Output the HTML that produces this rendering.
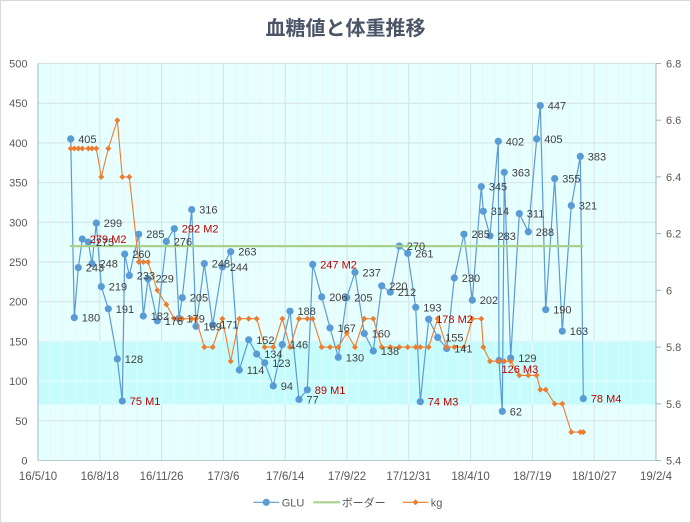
<!DOCTYPE html>
<html><head><meta charset="utf-8"><style>
html,body{margin:0;padding:0;background:#fff;}
svg{display:block;font-family:"Liberation Sans","Noto Sans CJK JP",sans-serif;}
</style></head><body>
<svg width="691" height="523" viewBox="0 0 691 523" xmlns="http://www.w3.org/2000/svg">
<defs>
<clipPath id="bandclip"><rect x="38" y="341.4" width="618" height="63.1"/></clipPath>
<g id="grid">
<line x1="38" y1="420.8" x2="656" y2="420.8"/><line x1="38" y1="381.1" x2="656" y2="381.1"/><line x1="38" y1="341.4" x2="656" y2="341.4"/><line x1="38" y1="301.7" x2="656" y2="301.7"/><line x1="38" y1="262" x2="656" y2="262"/><line x1="38" y1="222.3" x2="656" y2="222.3"/><line x1="38" y1="182.6" x2="656" y2="182.6"/><line x1="38" y1="142.9" x2="656" y2="142.9"/><line x1="38" y1="103.2" x2="656" y2="103.2"/><line x1="38" y1="63.5" x2="656" y2="63.5"/>
<line x1="99.8" y1="63.5" x2="99.8" y2="460.5"/><line x1="161.6" y1="63.5" x2="161.6" y2="460.5"/><line x1="223.4" y1="63.5" x2="223.4" y2="460.5"/><line x1="285.2" y1="63.5" x2="285.2" y2="460.5"/><line x1="347" y1="63.5" x2="347" y2="460.5"/><line x1="408.8" y1="63.5" x2="408.8" y2="460.5"/><line x1="470.6" y1="63.5" x2="470.6" y2="460.5"/><line x1="532.4" y1="63.5" x2="532.4" y2="460.5"/><line x1="594.2" y1="63.5" x2="594.2" y2="460.5"/>
</g>
<g id="minor">
<line x1="50.4" y1="63.5" x2="50.4" y2="460.5"/><line x1="62.7" y1="63.5" x2="62.7" y2="460.5"/><line x1="75.1" y1="63.5" x2="75.1" y2="460.5"/><line x1="87.4" y1="63.5" x2="87.4" y2="460.5"/>
<line x1="112.2" y1="63.5" x2="112.2" y2="460.5"/><line x1="124.5" y1="63.5" x2="124.5" y2="460.5"/><line x1="136.9" y1="63.5" x2="136.9" y2="460.5"/><line x1="149.2" y1="63.5" x2="149.2" y2="460.5"/>
<line x1="174" y1="63.5" x2="174" y2="460.5"/><line x1="186.3" y1="63.5" x2="186.3" y2="460.5"/><line x1="198.7" y1="63.5" x2="198.7" y2="460.5"/><line x1="211" y1="63.5" x2="211" y2="460.5"/>
<line x1="235.8" y1="63.5" x2="235.8" y2="460.5"/><line x1="248.1" y1="63.5" x2="248.1" y2="460.5"/><line x1="260.5" y1="63.5" x2="260.5" y2="460.5"/><line x1="272.8" y1="63.5" x2="272.8" y2="460.5"/>
<line x1="297.6" y1="63.5" x2="297.6" y2="460.5"/><line x1="309.9" y1="63.5" x2="309.9" y2="460.5"/><line x1="322.3" y1="63.5" x2="322.3" y2="460.5"/><line x1="334.6" y1="63.5" x2="334.6" y2="460.5"/>
<line x1="359.4" y1="63.5" x2="359.4" y2="460.5"/><line x1="371.7" y1="63.5" x2="371.7" y2="460.5"/><line x1="384.1" y1="63.5" x2="384.1" y2="460.5"/><line x1="396.4" y1="63.5" x2="396.4" y2="460.5"/>
<line x1="421.2" y1="63.5" x2="421.2" y2="460.5"/><line x1="433.5" y1="63.5" x2="433.5" y2="460.5"/><line x1="445.9" y1="63.5" x2="445.9" y2="460.5"/><line x1="458.2" y1="63.5" x2="458.2" y2="460.5"/>
<line x1="483" y1="63.5" x2="483" y2="460.5"/><line x1="495.3" y1="63.5" x2="495.3" y2="460.5"/><line x1="507.7" y1="63.5" x2="507.7" y2="460.5"/><line x1="520" y1="63.5" x2="520" y2="460.5"/>
<line x1="544.8" y1="63.5" x2="544.8" y2="460.5"/><line x1="557.1" y1="63.5" x2="557.1" y2="460.5"/><line x1="569.5" y1="63.5" x2="569.5" y2="460.5"/><line x1="581.8" y1="63.5" x2="581.8" y2="460.5"/>
<line x1="606.6" y1="63.5" x2="606.6" y2="460.5"/><line x1="618.9" y1="63.5" x2="618.9" y2="460.5"/><line x1="631.3" y1="63.5" x2="631.3" y2="460.5"/><line x1="643.6" y1="63.5" x2="643.6" y2="460.5"/>
</g>
<path id="dm" d="M0,-3L3,0L0,3L-3,0Z"/>
</defs>

<rect x="0.5" y="0.5" width="690" height="522" fill="#fff" stroke="#d9d9d9"/>

<!-- title -->
<text x="345.5" y="35" text-anchor="middle" font-size="20" font-weight="bold" fill="#4a5568" font-family="'Liberation Sans','Noto Sans CJK JP',sans-serif">血糖値と体重推移</text>

<!-- plot background -->
<rect x="38" y="63.5" width="618" height="397" fill="#e6ffff"/>
<use href="#minor" stroke="#edf6f6" stroke-width="1"/>
<use href="#grid" stroke="#d3e2e2" stroke-width="1"/>
<rect x="38" y="341.4" width="618" height="63.1" fill="#c6fcfc"/>
<g clip-path="url(#bandclip)">
<use href="#minor" stroke="#d8fdfd" stroke-width="1"/>
<use href="#grid" stroke="#eafdfd" stroke-width="1"/>
</g>

<!-- axes -->
<line x1="38" y1="63.5" x2="38" y2="460.5" stroke="#a3b4c4" stroke-width="1"/>
<line x1="656" y1="63.5" x2="656" y2="460.5" stroke="#a3b4c4" stroke-width="1"/>
<line x1="38" y1="460.5" x2="656" y2="460.5" stroke="#b8c8d0" stroke-width="1"/>
<g stroke="#a3b4c4" stroke-width="1">
<line x1="656" y1="63.5" x2="661" y2="63.5"/><line x1="656" y1="120.2" x2="661" y2="120.2"/><line x1="656" y1="176.9" x2="661" y2="176.9"/><line x1="656" y1="233.6" x2="661" y2="233.6"/><line x1="656" y1="290.3" x2="661" y2="290.3"/><line x1="656" y1="347.1" x2="661" y2="347.1"/><line x1="656" y1="403.8" x2="661" y2="403.8"/><line x1="656" y1="460.5" x2="661" y2="460.5"/>
</g>

<!-- left tick labels -->
<g font-size="11" fill="#595959" text-anchor="end">
<text x="27.5" y="67.5">500</text><text x="27.5" y="107.2">450</text><text x="27.5" y="146.9">400</text><text x="27.5" y="186.6">350</text><text x="27.5" y="226.3">300</text><text x="27.5" y="266">250</text><text x="27.5" y="305.7">200</text><text x="27.5" y="345.4">150</text><text x="27.5" y="385.1">100</text><text x="27.5" y="424.8">50</text><text x="27.5" y="464.5">0</text>
</g>
<!-- right tick labels -->
<g font-size="11" fill="#595959">
<text x="666" y="67.5">6.8</text><text x="666" y="124.2">6.6</text><text x="666" y="180.9">6.4</text><text x="666" y="237.6">6.2</text><text x="666" y="294.3">6</text><text x="666" y="351.1">5.8</text><text x="666" y="407.8">5.6</text><text x="666" y="464.5">5.4</text>
</g>
<!-- x labels -->
<g font-size="11.5" fill="#595959" text-anchor="middle">
<text x="38" y="480">16/5/10</text><text x="99.8" y="480">16/8/18</text><text x="161.6" y="480">16/11/26</text><text x="223.4" y="480">17/3/6</text><text x="285.2" y="480">17/6/14</text><text x="347" y="480">17/9/22</text><text x="408.8" y="480">17/12/31</text><text x="470.6" y="480">18/4/10</text><text x="532.4" y="480">18/7/19</text><text x="594.2" y="480">18/10/27</text><text x="656" y="480">19/2/4</text>
</g>

<!-- GLU series -->
<polyline fill="none" stroke="#5b9bd5" stroke-width="1.2" stroke-linejoin="round" points="70.7,138.9 74.3,317.6 78.3,267.6 82.3,239.0 88.3,242.1 92,263.6 96.3,223.1 101.3,286.6 108.3,308.8 117.3,358.9 122.3,401.0 124.7,254.1 129.3,275.5 138.7,234.2 143.3,316.0 148,278.7 157.3,320.8 166.3,241.4 174.3,228.7 179,318.4 182.3,297.7 191.7,209.6 196,326.3 204.3,263.6 212.7,324.7 222.3,266.8 230.7,251.7 239.3,370.0 248.7,339.8 256.7,354.1 264.7,362.8 273.3,385.9 282.3,344.6 290,311.2 299,399.4 307.3,389.8 312.7,264.4 321.7,296.9 330,327.9 338.3,357.3 346.7,297.7 355,272.3 364.3,333.5 373.3,350.9 381.7,285.8 390.3,292.2 399.3,246.1 407.7,253.3 415.7,307.3 420.3,401.7 428.7,319.2 437.7,337.4 446.7,348.5 454.3,277.9 464,234.2 472.3,300.1 481.3,186.6 483.3,211.2 490,235.8 498.3,141.3 499,360.5 502.3,411.3 504.3,172.3 510.7,358.1 519.3,213.6 528.3,231.8 536.7,138.9 540.3,105.6 545.7,309.6 554.7,178.6 562.3,331.1 571.3,205.6 580.3,156.4 583.3,398.6"/>
<g fill="#5b9bd5">
<circle cx="70.7" cy="138.9" r="3.6"/><circle cx="74.3" cy="317.6" r="3.6"/><circle cx="78.3" cy="267.6" r="3.6"/><circle cx="82.3" cy="239.0" r="3.6"/><circle cx="88.3" cy="242.1" r="3.6"/><circle cx="92" cy="263.6" r="3.6"/><circle cx="96.3" cy="223.1" r="3.6"/><circle cx="101.3" cy="286.6" r="3.6"/><circle cx="108.3" cy="308.8" r="3.6"/><circle cx="117.3" cy="358.9" r="3.6"/><circle cx="122.3" cy="401.0" r="3.6"/><circle cx="124.7" cy="254.1" r="3.6"/><circle cx="129.3" cy="275.5" r="3.6"/><circle cx="138.7" cy="234.2" r="3.6"/><circle cx="143.3" cy="316.0" r="3.6"/><circle cx="148" cy="278.7" r="3.6"/><circle cx="157.3" cy="320.8" r="3.6"/><circle cx="166.3" cy="241.4" r="3.6"/><circle cx="174.3" cy="228.7" r="3.6"/><circle cx="179" cy="318.4" r="3.6"/><circle cx="182.3" cy="297.7" r="3.6"/><circle cx="191.7" cy="209.6" r="3.6"/><circle cx="196" cy="326.3" r="3.6"/><circle cx="204.3" cy="263.6" r="3.6"/><circle cx="212.7" cy="324.7" r="3.6"/><circle cx="222.3" cy="266.8" r="3.6"/><circle cx="230.7" cy="251.7" r="3.6"/><circle cx="239.3" cy="370.0" r="3.6"/><circle cx="248.7" cy="339.8" r="3.6"/><circle cx="256.7" cy="354.1" r="3.6"/><circle cx="264.7" cy="362.8" r="3.6"/><circle cx="273.3" cy="385.9" r="3.6"/><circle cx="282.3" cy="344.6" r="3.6"/><circle cx="290" cy="311.2" r="3.6"/><circle cx="299" cy="399.4" r="3.6"/><circle cx="307.3" cy="389.8" r="3.6"/><circle cx="312.7" cy="264.4" r="3.6"/><circle cx="321.7" cy="296.9" r="3.6"/><circle cx="330" cy="327.9" r="3.6"/><circle cx="338.3" cy="357.3" r="3.6"/><circle cx="346.7" cy="297.7" r="3.6"/><circle cx="355" cy="272.3" r="3.6"/><circle cx="364.3" cy="333.5" r="3.6"/><circle cx="373.3" cy="350.9" r="3.6"/><circle cx="381.7" cy="285.8" r="3.6"/><circle cx="390.3" cy="292.2" r="3.6"/><circle cx="399.3" cy="246.1" r="3.6"/><circle cx="407.7" cy="253.3" r="3.6"/><circle cx="415.7" cy="307.3" r="3.6"/><circle cx="420.3" cy="401.7" r="3.6"/><circle cx="428.7" cy="319.2" r="3.6"/><circle cx="437.7" cy="337.4" r="3.6"/><circle cx="446.7" cy="348.5" r="3.6"/><circle cx="454.3" cy="277.9" r="3.6"/><circle cx="464" cy="234.2" r="3.6"/><circle cx="472.3" cy="300.1" r="3.6"/><circle cx="481.3" cy="186.6" r="3.6"/><circle cx="483.3" cy="211.2" r="3.6"/><circle cx="490" cy="235.8" r="3.6"/><circle cx="498.3" cy="141.3" r="3.6"/><circle cx="499" cy="360.5" r="3.6"/><circle cx="502.3" cy="411.3" r="3.6"/><circle cx="504.3" cy="172.3" r="3.6"/><circle cx="510.7" cy="358.1" r="3.6"/><circle cx="519.3" cy="213.6" r="3.6"/><circle cx="528.3" cy="231.8" r="3.6"/><circle cx="536.7" cy="138.9" r="3.6"/><circle cx="540.3" cy="105.6" r="3.6"/><circle cx="545.7" cy="309.6" r="3.6"/><circle cx="554.7" cy="178.6" r="3.6"/><circle cx="562.3" cy="331.1" r="3.6"/><circle cx="571.3" cy="205.6" r="3.6"/><circle cx="580.3" cy="156.4" r="3.6"/><circle cx="583.3" cy="398.6" r="3.6"/>
</g>

<!-- border line -->
<line x1="70" y1="246.1" x2="583.3" y2="246.1" stroke="#a9d18e" stroke-width="2.2"/>

<!-- kg series -->
<polyline fill="none" stroke="#ed7d31" stroke-width="1.1" stroke-linejoin="round" points="70.7,148.5 74.3,148.5 78.3,148.5 82.3,148.5 88.3,148.5 92,148.5 96.3,148.5 101.3,176.9 108.3,148.5 117.3,120.2 122.3,176.9 129.3,176.9 138.7,262.0 143.3,262.0 148,262.0 157.3,290.3 166.3,304.5 174.3,318.7 179,318.7 182.3,318.7 191.7,318.7 196,318.7 204.3,347.1 212.7,347.1 222.3,318.7 230.7,361.2 239.3,318.7 248.7,318.7 256.7,318.7 264.7,347.1 273.3,347.1 282.3,318.7 290,347.1 299,318.7 307.3,318.7 312.7,318.7 321.7,347.1 330,347.1 338.3,347.1 346.7,332.9 355,347.1 364.3,318.7 373.3,318.7 381.7,347.1 390.3,347.1 399.3,347.1 407.7,347.1 415.7,347.1 420.3,347.1 428.7,347.1 437.7,318.7 446.7,347.1 454.3,347.1 464,347.1 472.3,318.7 481.3,318.7 483.3,347.1 490,361.2 498.3,361.2 504.3,361.2 510.7,361.2 519.3,375.4 528.3,375.4 536.7,375.4 540.3,389.6 545.7,389.6 554.7,403.8 562.3,403.8 571.3,432.1 580.3,432.1 583.3,432.1"/>
<g fill="#ed7d31">
<use href="#dm" x="70.7" y="148.5"/><use href="#dm" x="74.3" y="148.5"/><use href="#dm" x="78.3" y="148.5"/><use href="#dm" x="82.3" y="148.5"/><use href="#dm" x="88.3" y="148.5"/><use href="#dm" x="92" y="148.5"/><use href="#dm" x="96.3" y="148.5"/><use href="#dm" x="101.3" y="176.9"/><use href="#dm" x="108.3" y="148.5"/><use href="#dm" x="117.3" y="120.2"/><use href="#dm" x="122.3" y="176.9"/><use href="#dm" x="129.3" y="176.9"/><use href="#dm" x="138.7" y="262"/><use href="#dm" x="143.3" y="262"/><use href="#dm" x="148" y="262"/><use href="#dm" x="157.3" y="290.3"/><use href="#dm" x="166.3" y="304.5"/><use href="#dm" x="174.3" y="318.7"/><use href="#dm" x="179" y="318.7"/><use href="#dm" x="182.3" y="318.7"/><use href="#dm" x="191.7" y="318.7"/><use href="#dm" x="196" y="318.7"/><use href="#dm" x="204.3" y="347.1"/><use href="#dm" x="212.7" y="347.1"/><use href="#dm" x="222.3" y="318.7"/><use href="#dm" x="230.7" y="361.2"/><use href="#dm" x="239.3" y="318.7"/><use href="#dm" x="248.7" y="318.7"/><use href="#dm" x="256.7" y="318.7"/><use href="#dm" x="264.7" y="347.1"/><use href="#dm" x="273.3" y="347.1"/><use href="#dm" x="282.3" y="318.7"/><use href="#dm" x="290" y="347.1"/><use href="#dm" x="299" y="318.7"/><use href="#dm" x="307.3" y="318.7"/><use href="#dm" x="312.7" y="318.7"/><use href="#dm" x="321.7" y="347.1"/><use href="#dm" x="330" y="347.1"/><use href="#dm" x="338.3" y="347.1"/><use href="#dm" x="346.7" y="332.9"/><use href="#dm" x="355" y="347.1"/><use href="#dm" x="364.3" y="318.7"/><use href="#dm" x="373.3" y="318.7"/><use href="#dm" x="381.7" y="347.1"/><use href="#dm" x="390.3" y="347.1"/><use href="#dm" x="399.3" y="347.1"/><use href="#dm" x="407.7" y="347.1"/><use href="#dm" x="415.7" y="347.1"/><use href="#dm" x="420.3" y="347.1"/><use href="#dm" x="428.7" y="347.1"/><use href="#dm" x="437.7" y="318.7"/><use href="#dm" x="446.7" y="347.1"/><use href="#dm" x="454.3" y="347.1"/><use href="#dm" x="464" y="347.1"/><use href="#dm" x="472.3" y="318.7"/><use href="#dm" x="481.3" y="318.7"/><use href="#dm" x="483.3" y="347.1"/><use href="#dm" x="490" y="361.2"/><use href="#dm" x="498.3" y="361.2"/><use href="#dm" x="504.3" y="361.2"/><use href="#dm" x="510.7" y="361.2"/><use href="#dm" x="519.3" y="375.4"/><use href="#dm" x="528.3" y="375.4"/><use href="#dm" x="536.7" y="375.4"/><use href="#dm" x="540.3" y="389.6"/><use href="#dm" x="545.7" y="389.6"/><use href="#dm" x="554.7" y="403.8"/><use href="#dm" x="562.3" y="403.8"/><use href="#dm" x="571.3" y="432.1"/><use href="#dm" x="580.3" y="432.1"/><use href="#dm" x="583.3" y="432.1"/>
</g>

<!-- data labels -->
<g font-size="11" fill="#404040">
<text x="78.2" y="142.9">405</text><text x="81.8" y="321.6">180</text><text x="85.8" y="271.6">243</text><text x="95.8" y="246.1">275</text><text x="99.5" y="267.6">248</text><text x="103.8" y="227.1">299</text><text x="108.8" y="290.6">219</text><text x="115.8" y="312.8">191</text><text x="124.8" y="362.9">128</text><text x="132.2" y="258.1">260</text><text x="136.8" y="279.5">233</text><text x="146.2" y="238.2">285</text><text x="150.8" y="320">182</text><text x="155.5" y="282.7">229</text><text x="164.8" y="324.8">176</text><text x="173.8" y="245.4">276</text><text x="186.5" y="322.4">179</text><text x="189.8" y="301.7">205</text><text x="199.2" y="213.6">316</text><text x="203.5" y="330.3">169</text><text x="211.8" y="267.6">248</text><text x="220.2" y="328.7">171</text><text x="229.8" y="270.8">244</text><text x="238.2" y="255.7">263</text><text x="246.8" y="374">114</text><text x="256.2" y="343.8">152</text><text x="264.2" y="358.1">134</text><text x="272.2" y="366.8">123</text><text x="280.8" y="389.9">94</text><text x="289.8" y="348.6">146</text><text x="297.5" y="315.2">188</text><text x="306.5" y="403.4">77</text><text x="329.2" y="300.9">206</text><text x="337.5" y="331.9">167</text><text x="345.8" y="361.3">130</text><text x="354.2" y="301.7">205</text><text x="362.5" y="276.3">237</text><text x="371.8" y="337.5">160</text><text x="380.8" y="354.9">138</text><text x="389.2" y="289.8">220</text><text x="397.8" y="296.2">212</text><text x="406.8" y="250.1">270</text><text x="415.2" y="257.3">261</text><text x="423.2" y="311.3">193</text><text x="445.2" y="341.4">155</text><text x="454.2" y="352.5">141</text><text x="461.8" y="281.9">230</text><text x="471.5" y="238.2">285</text><text x="479.8" y="304.1">202</text><text x="488.8" y="190.6">345</text><text x="490.8" y="215.2">314</text><text x="497.5" y="239.8">283</text><text x="505.8" y="145.3">402</text><text x="509.8" y="415.3">62</text><text x="511.8" y="176.3">363</text><text x="518.2" y="362.1">129</text><text x="526.8" y="217.6">311</text><text x="535.8" y="235.8">288</text><text x="544.2" y="142.9">405</text><text x="547.8" y="109.6">447</text><text x="553.2" y="313.6">190</text><text x="562.2" y="182.6">355</text><text x="569.8" y="335.1">163</text><text x="578.8" y="209.6">321</text><text x="587.8" y="160.4">383</text>
</g>
<g font-size="11" fill="#c00000">
<text x="89.8" y="243">279 M2</text><text x="129.8" y="405">75 M1</text><text x="181.8" y="232.7">292 M2</text><text x="314.8" y="393.8">89 M1</text><text x="320.2" y="268.4">247 M2</text><text x="427.8" y="405.7">74 M3</text><text x="436.2" y="323.2">178 M2</text><text x="501.5" y="373">126 M3</text><text x="590.8" y="402.6">78 M4</text>
</g>

<!-- legend -->
<line x1="253.3" y1="502.3" x2="279.3" y2="502.3" stroke="#5b9bd5" stroke-width="1.2"/>
<circle cx="266.3" cy="502.3" r="3.6" fill="#5b9bd5"/>
<text x="281.7" y="506.3" font-size="11" fill="#595959">GLU</text>
<line x1="313.3" y1="502.3" x2="340" y2="502.3" stroke="#a9d18e" stroke-width="2.2"/>
<text x="341.7" y="506.3" font-size="11" fill="#595959" font-family="'Liberation Sans','Noto Sans CJK JP',sans-serif">ボーダー</text>
<line x1="402.7" y1="502.3" x2="428.3" y2="502.3" stroke="#ed7d31" stroke-width="1.1"/>
<use href="#dm" x="415.5" y="502.3" fill="#ed7d31"/>
<text x="430.7" y="506.3" font-size="11" fill="#595959">kg</text>
</svg>
</body></html>
